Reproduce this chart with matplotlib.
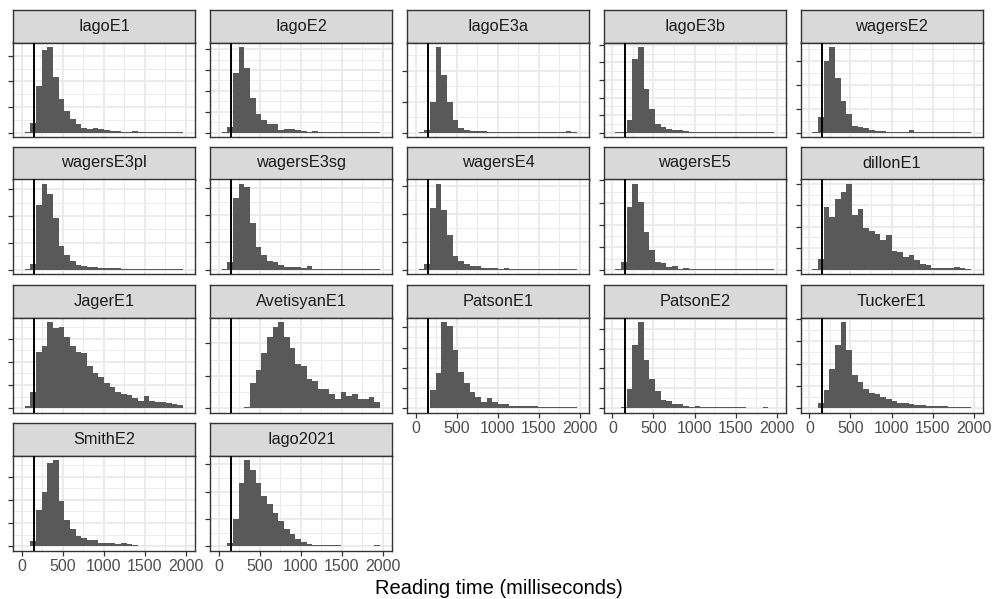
import numpy as np
import matplotlib
matplotlib.use("Agg")
import matplotlib.pyplot as plt

plt.rcParams["font.family"] = ["Liberation Sans", "DejaVu Sans"]

# histogram counts per experiment (30 bins, width 69 ms, centred at 0, 69, 138, ...)
panel_names = [
    "IagoE1", "IagoE2", "IagoE3a", "IagoE3b", "wagersE2",
    "wagersE3pl", "wagersE3sg", "wagersE4", "wagersE5", "dillonE1",
    "JagerE1", "AvetisyanE1", "PatsonE1", "PatsonE2", "TuckerE1",
    "SmithE2", "Iago2021",
]

iago_e1 = [0, 1, 36, 183, 323, 335, 219, 132, 84, 52, 35, 19, 15, 18, 13, 9, 6, 5, 4, 4, 5, 4, 3, 3, 3, 3, 3, 3, 3, 0]
iago_e2 = [0, 1, 29, 284, 411, 308, 164, 88, 60, 40, 40, 13, 16, 16, 11, 8, 5, 10, 4, 4, 3, 3, 3, 3, 3, 3, 3, 3, 3, 0]
iago_e3a = [0, 2, 8, 99, 277, 186, 99, 40, 16, 9, 5, 4, 4, 3, 3, 2, 2, 2, 2, 2, 2, 2, 2, 2, 2, 2, 2, 4, 2, 0]
iago_e3b = [0, 2, 4, 70, 417, 489, 250, 136, 47, 32, 19, 13, 15, 8, 5, 4, 4, 3, 3, 3, 3, 3, 3, 3, 3, 3, 3, 3, 3, 0]
wagers_e2 = [0, 2, 65, 300, 358, 230, 131, 80, 30, 22, 20, 12, 8, 6, 4, 3, 3, 3, 10, 3, 3, 3, 3, 2, 2, 2, 3, 3, 2, 0]
wagers_e3pl = [0, 2, 21, 242, 320, 281, 194, 90, 55, 34, 19, 15, 9, 11, 5, 5, 5, 6, 3, 3, 3, 3, 3, 3, 3, 3, 4, 3, 2, 0]
wagers_e3sg = [0, 2, 27, 263, 315, 302, 171, 85, 55, 33, 27, 18, 11, 11, 11, 7, 12, 3, 4, 3, 3, 3, 3, 3, 3, 3, 3, 3, 3, 0]
wagers_e4 = [0, 2, 19, 221, 307, 214, 123, 48, 31, 21, 12, 12, 6, 5, 5, 4, 6, 3, 3, 3, 3, 3, 3, 3, 3, 3, 3, 3, 3, 0]
wagers_e5 = [0, 2, 34, 283, 385, 305, 167, 89, 34, 30, 12, 18, 4, 7, 4, 3, 3, 3, 3, 3, 3, 3, 3, 3, 3, 3, 3, 3, 3, 0]
dillon_e1 = [0, 2, 52, 294, 247, 328, 364, 400, 255, 281, 195, 180, 164, 138, 161, 88, 83, 59, 67, 47, 28, 23, 9, 9, 9, 9, 14, 8, 3, 0]
jager_e1 = [0, 9, 68, 241, 267, 371, 346, 349, 306, 270, 241, 237, 183, 154, 133, 107, 92, 72, 61, 56, 46, 29, 52, 32, 25, 25, 22, 17, 13, 0]
avetisyan_e1 = [0, 0, 1, 1, 2, 5, 77, 119, 170, 221, 249, 265, 221, 186, 137, 130, 89, 84, 58, 58, 43, 28, 51, 38, 45, 28, 28, 35, 20, 0]
patson_e1 = [0, 1, 2, 89, 174, 425, 408, 288, 179, 127, 78, 53, 33, 50, 30, 23, 20, 13, 13, 12, 10, 10, 8, 8, 7, 7, 5, 5, 4, 0]
patson_e2 = [0, 2, 5, 95, 320, 432, 240, 145, 87, 42, 37, 23, 23, 10, 7, 12, 7, 7, 5, 5, 4, 4, 5, 4, 3, 3, 3, 4, 3, 0]
tucker_e1 = [0, 3, 22, 80, 176, 284, 385, 262, 148, 119, 87, 70, 62, 50, 43, 33, 25, 22, 18, 15, 13, 10, 10, 9, 9, 7, 7, 6, 4, 0]
smith_e2 = [0, 2, 24, 156, 232, 359, 370, 194, 112, 76, 42, 34, 28, 28, 14, 14, 13, 10, 14, 8, 4, 3, 3, 3, 3, 3, 3, 3, 3, 0]
iago_2021 = [0, 2, 11, 98, 233, 315, 279, 230, 185, 156, 122, 92, 62, 44, 26, 14, 8, 5, 3, 3, 3, 3, 2, 2, 2, 2, 2, 2, 4, 0]

panel_counts = [
    iago_e1, iago_e2, iago_e3a, iago_e3b, wagers_e2,
    wagers_e3pl, wagers_e3sg, wagers_e4, wagers_e5, dillon_e1,
    jager_e1, avetisyan_e1, patson_e1, patson_e2, tucker_e1,
    smith_e2, iago_2021,
]

bin_width = 69.0
cutoff = 150
x_breaks = [0, 500, 1000, 1500, 2000]
y_step = 100

W, H = 993, 599
fig = plt.figure(figsize=(W / 100, H / 100), dpi=100)

col_left = [13.3, 210.3, 407.3, 604.0, 801.0]
panel_w = 181.8
strip_top = [9.5, 146.5, 285.0, 423.0]
strip_h = 33.0
panel_h = 94.5

bar_col = "#595959"
grid_col = "#EBEBEB"
dark = "#333333"

n_cols = 5
n_panels = len(panel_names)
centers = np.arange(30) * bin_width


def frac(x, y, w, h):
    return [x / W, 1 - (y + h) / H, w / W, h / H]


for i, (name, counts) in enumerate(zip(panel_names, panel_counts)):
    r, c = divmod(i, n_cols)
    x0 = col_left[c]
    st = strip_top[r]

    sax = fig.add_axes(frac(x0, st, panel_w, strip_h))
    sax.set_facecolor("#D9D9D9")
    sax.set_xticks([])
    sax.set_yticks([])
    for sp in sax.spines.values():
        sp.set_color(dark)
        sp.set_linewidth(1.0)
    sax.text(0.5, 0.5, name, ha="center", va="center", fontsize=11.8,
             color="#1A1A1A", transform=sax.transAxes)

    ax = fig.add_axes(frac(x0, st + strip_h, panel_w, panel_h))
    counts = np.asarray(counts, dtype=float)
    ymax = counts.max()
    ax.bar(centers, counts, width=bin_width, color=bar_col, linewidth=0, zorder=2)
    ax.axvline(cutoff, color="black", linewidth=1.4, zorder=3)

    ax.set_xlim(-103, 2112)
    ax.set_ylim(-0.05 * ymax, 1.05 * ymax)
    yt = np.arange(0, 1.05 * ymax + 1e-9, y_step)
    ax.set_yticks(yt)
    ax.set_yticklabels([])
    ax.set_yticks(np.arange(y_step / 2, 1.05 * ymax, y_step), minor=True)
    ax.set_xticks(x_breaks)
    ax.set_xticks([250, 750, 1250, 1750], minor=True)

    ax.grid(which="major", color=grid_col, linewidth=1.4, zorder=0)
    ax.grid(which="minor", color=grid_col, linewidth=0.7, zorder=0)
    ax.set_axisbelow(True)

    ax.tick_params(axis="both", which="major", length=3.5, width=0.9, color=dark)
    ax.tick_params(axis="both", which="minor", length=0)

    bottom_panel = i + n_cols >= n_panels
    if bottom_panel:
        ax.set_xticklabels([str(v) for v in x_breaks], fontsize=11.5, color="#4D4D4D")
        ax.tick_params(axis="x", pad=2.5)
    else:
        ax.tick_params(axis="x", which="major", length=0)
        ax.set_xticklabels([])

    for sp in ax.spines.values():
        sp.set_color(dark)
        sp.set_linewidth(1.0)

fig.text(498.5 / W, 1 - 588 / H, "Reading time (milliseconds)", ha="center", va="center",
         fontsize=14.5, color="black")

fig.savefig("out.png", dpi=100)
